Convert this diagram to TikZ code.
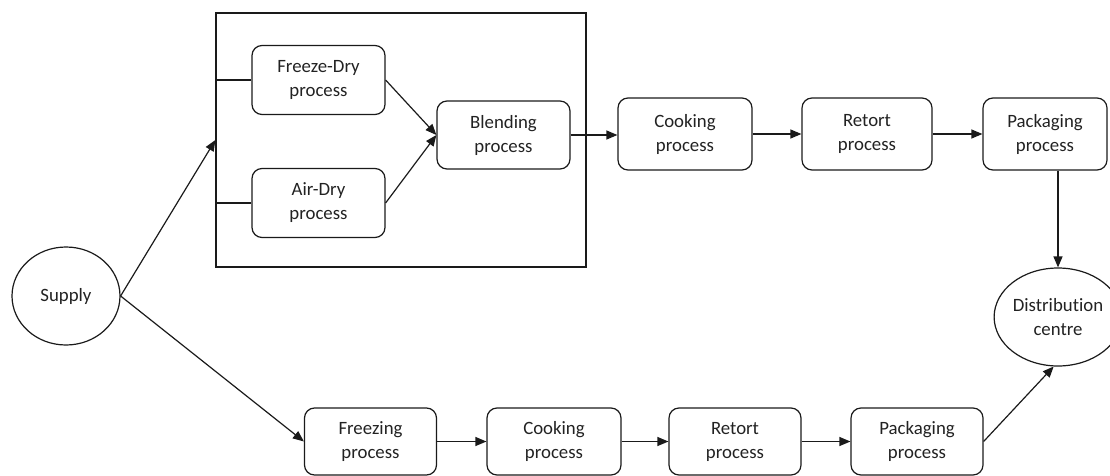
\documentclass[tikz,border=0pt]{standalone}
\usepackage{fontspec}
\setmainfont{Carlito}[Ligatures=NoCommon]
\usepackage{tikz}
\usetikzlibrary{shapes.geometric, arrows.meta, positioning}
\definecolor{FlowLine}{HTML}{1A1A1A}
\definecolor{FlowText}{HTML}{222222}

\begin{document}
\begin{tikzpicture}[x=1pt, y=-1pt,
  proc/.style={draw=FlowLine, line width=1.2pt, rounded corners=10pt, minimum width=132pt, minimum height=69pt,
    inner sep=0pt, align=center, text=FlowText, font=\fontsize{18.8}{24}\selectfont},
  site/.style={draw=FlowLine, line width=1.2pt, ellipse, inner sep=0pt, align=center, text=FlowText,
    font=\fontsize{18.8}{24}\selectfont},
  flow/.style={draw=FlowLine, line width=1.2pt, -{Triangle[length=11pt, width=9pt]}},
  link/.style={draw=FlowLine, line width=1.2pt}]
\useasboundingbox (0,0) rectangle (1110,476);
% --- Drying group ---
\node[draw=FlowLine, line width=1.2pt, minimum width=370pt, minimum height=254pt, inner sep=0pt] (dry) at (401,140) {};
\node[proc, minimum width=133pt] (freeze) at (318.5,80) {Freeze-Dry\\process};
\node[proc, minimum width=133pt] (air) at (318.5,203) {Air-Dry\\process};
\node[proc, minimum width=133pt, minimum height=68pt] (blend) at (503.5,135) {Blending\\process};
% --- Top row ---
\node[proc, minimum width=134pt, minimum height=72pt] (cookA) at (685,134) {Cooking\\process};
\node[proc, minimum width=130pt, minimum height=72pt] (retortA) at (867,134) {Retort\\process};
\node[proc, minimum width=124pt, minimum height=72pt] (packA) at (1045,134) {Packaging\\process};
% --- Bottom row ---
\node[proc, minimum height=67pt] (freezing) at (370.5,441.5) {Freezing\\process};
\node[proc, minimum width=134pt, minimum height=67pt] (cookB) at (554,441.5) {Cooking\\process};
\node[proc, minimum height=67pt] (retortB) at (735,441.5) {Retort\\process};
\node[proc, minimum height=67pt] (packB) at (917,441.5) {Packaging\\process};
% --- End points ---
\node[site, minimum width=108pt, minimum height=98pt] (supply) at (66,296) {Supply};
\node[site, minimum width=102pt, minimum height=98pt] (dist) at (1058,317) {Distribution\\centre};
% Connectors
\draw[flow] (supply.east) -- (dry.west);
\draw[link] (freeze.west -| dry.west) -- (freeze.west);
\draw[link] (air.west -| dry.west) -- (air.west);
\draw[flow] (freeze.east) -- (blend.west);
\draw[flow] (air.east) -- (blend.west);
\draw[flow] (blend.east) -- (cookA.west |- blend.east);
\draw[flow] (cookA) -- (retortA);
\draw[flow] (retortA) -- (packA);
\draw[flow] (dist.north |- packA.south) -- (dist.north);
\draw[flow] (supply.east) -- (freezing.west);
\draw[flow] (freezing) -- (cookB);
\draw[flow] (cookB) -- (retortB);
\draw[flow] (retortB) -- (packB);
\draw[flow] (packB.east) -- (dist.265);
\end{tikzpicture}
\end{document}
